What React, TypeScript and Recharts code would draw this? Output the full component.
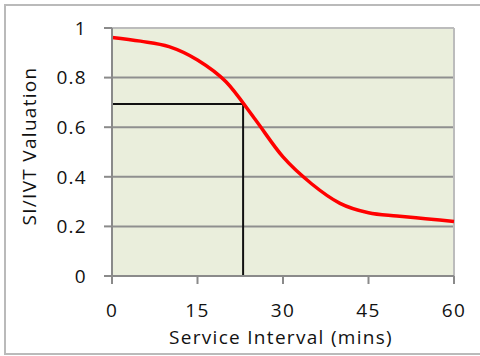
import React from 'react';
import { LineChart, Line, XAxis, YAxis, CartesianGrid, ReferenceLine } from 'recharts';

const minutes = [0, 5, 10, 15, 20, 25, 30, 35, 40, 45, 50, 55, 60];
const valuations = [0.962, 0.947, 0.925, 0.871, 0.783, 0.635, 0.48, 0.372, 0.293, 0.255, 0.242, 0.231, 0.22];
const xTicks = [0, 15, 30, 45, 60];
const yTicks = [0, 0.2, 0.4, 0.6, 0.8, 1];
const markerMinutes = 23;
const markerValue = 0.694;

const data = minutes.map((m, i) => ({ m, v: valuations[i] }));

const FONT = '"Open Sans", Lato, sans-serif';
const AXIS = '#8a8a8a';
const textStyle = { fill: '#111', fontSize: 19, fontFamily: FONT, letterSpacing: 1.3 };

export default function App() {
  return (
    <div style={{ position: 'absolute', left: 0, top: 0, width: 480, height: 356, background: '#fff', overflow: 'hidden' }}>
      <div
        style={{
          position: 'absolute',
          left: 4,
          top: 4,
          width: 476,
          height: 351,
          boxSizing: 'border-box',
          border: '2px solid #bababa',
          borderRight: 'none',
        }}
      />
      <div style={{ position: 'absolute', left: 0, top: 0 }}>
        <LineChart width={480} height={356} data={data} margin={{ top: 28, right: 26, bottom: 0, left: 0 }}>
          <CartesianGrid vertical={false} fill="#EAEEDC" stroke="#8f8f8f" strokeWidth={2} />
          <XAxis
            dataKey="m"
            type="number"
            domain={[0, 60]}
            ticks={xTicks}
            height={80}
            tickSize={8}
            tickMargin={20}
            stroke={AXIS}
            axisLine={{ stroke: AXIS, strokeWidth: 2 }}
            tickLine={{ stroke: AXIS, strokeWidth: 2 }}
            tick={textStyle}
            label={{ value: 'Service Interval (mins)', position: 'insideBottom', offset: 12, dx: -2, ...textStyle }}
          />
          <YAxis
            type="number"
            domain={[0, 1]}
            ticks={yTicks}
            width={112}
            tickSize={8}
            tickMargin={17}
            stroke={AXIS}
            axisLine={{ stroke: AXIS, strokeWidth: 2 }}
            tickLine={{ stroke: AXIS, strokeWidth: 2 }}
            tick={textStyle}
            label={{ value: 'SI/IVT Valuation', angle: -90, position: 'center', dx: -27, dy: -6, ...textStyle }}
          />
          <ReferenceLine y={1} stroke="#bcbcbc" strokeWidth={2} />
          <ReferenceLine x={60} stroke="#bcbcbc" strokeWidth={2} />
          <ReferenceLine
            segment={[{ x: 0, y: markerValue }, { x: markerMinutes, y: markerValue }]}
            stroke="#111"
            strokeWidth={2}
          />
          <ReferenceLine
            segment={[{ x: markerMinutes, y: 0 }, { x: markerMinutes, y: markerValue }]}
            stroke="#111"
            strokeWidth={2}
          />
          <Line type="monotone" dataKey="v" stroke="#ff0000" strokeWidth={3.5} dot={false} isAnimationActive={false} />
        </LineChart>
      </div>
    </div>
  );
}
